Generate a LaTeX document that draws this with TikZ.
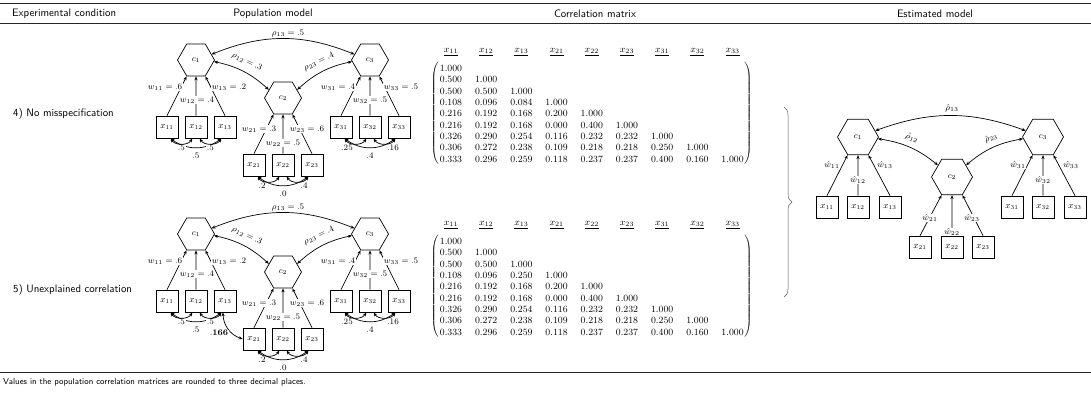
\RequirePackage{fix-cm}
\documentclass[tikz,border=0pt]{standalone}
\usepackage{amsmath}
\usetikzlibrary{shapes.geometric,arrows.meta,decorations.pathreplacing}

\tikzset{
  sti/.tip={Stealth[length=4pt,width=3.2pt]},
  arr/.style={-sti, line width=0.7pt},
  darr/.style={sti-sti, line width=0.7pt},
  hexa/.style={regular polygon, regular polygon sides=6, draw, line width=0.7pt,
    minimum size=37pt, inner sep=0pt, font=\fontsize{8.5}{10}\selectfont},
  hexb/.style={hexa, minimum size=41pt},
  obs/.style={draw, line width=0.7pt, minimum size=22pt, inner sep=0pt,
    font=\fontsize{9}{10}\selectfont},
  lab/.style={fill=white, inner sep=0.6pt, font=\fontsize{8.5}{10}\selectfont},
  hdr/.style={inner sep=0pt, font=\sffamily\fontsize{10.8}{12}\selectfont},
  num/.style={inner sep=0pt, font=\fontsize{9.5}{11}\selectfont},
  rulel/.style={line width=1pt, black!85},
  rules/.style={line width=0.6pt, black!85},
  brc/.style={decorate, decoration={brace, amplitude=8pt}, line width=0.5pt, black!65},
}

\newcommand\popmodel[2]{%
\begin{scope}[shift={(0,#2)}]
  \node[hexa] (#1c1) at (196,60) {$c_1$};
  \node[hexa] (#1c2) at (283,98) {$c_2$};
  \node[hexa] (#1c3) at (370,60) {$c_3$};
  \node[obs] (#1x11) at (167,127) {$x_{11}$};
  \node[obs] (#1x12) at (196,127) {$x_{12}$};
  \node[obs] (#1x13) at (225,127) {$x_{13}$};
  \node[obs] (#1x21) at (254,165) {$x_{21}$};
  \node[obs] (#1x22) at (283,165) {$x_{22}$};
  \node[obs] (#1x23) at (312,165) {$x_{23}$};
  \node[obs] (#1x31) at (341,127) {$x_{31}$};
  \node[obs] (#1x32) at (370,127) {$x_{32}$};
  \node[obs] (#1x33) at (399,127) {$x_{33}$};
  % weights
  \draw[arr] (#1x11.north) -- (#1c1.240);
  \draw[arr] (#1x12.north) -- (#1c1.south);
  \draw[arr] (#1x13.north) -- (#1c1.300);
  \draw[arr] (#1x21.north) -- (#1c2.240);
  \draw[arr] (#1x22.north) -- (#1c2.south);
  \draw[arr] (#1x23.north) -- (#1c2.300);
  \draw[arr] (#1x31.north) -- (#1c3.240);
  \draw[arr] (#1x32.north) -- (#1c3.south);
  \draw[arr] (#1x33.north) -- (#1c3.300);
  % construct correlations
  \draw[darr] (#1c1.20) to[bend left=22] (#1c3.160);
  \draw[darr] (#1c1.-5) to[bend left=15] (#1c2.150);
  \draw[darr] (#1c3.185) to[bend right=15] (#1c2.30);
  % indicator correlations
  \draw[darr] (#1x11.-72) to[bend right=38] (#1x13.-108);
  \draw[darr] (#1x11.-72) to[bend right=60] (#1x12.-108);
  \draw[darr] (#1x12.-72) to[bend right=60] (#1x13.-108);
  \draw[darr] (#1x21.-72) to[bend right=38] (#1x23.-108);
  \draw[darr] (#1x21.-72) to[bend right=60] (#1x22.-108);
  \draw[darr] (#1x22.-72) to[bend right=60] (#1x23.-108);
  \draw[darr] (#1x31.-72) to[bend right=38] (#1x33.-108);
  \draw[darr] (#1x31.-72) to[bend right=60] (#1x32.-108);
  \draw[darr] (#1x32.-72) to[bend right=60] (#1x33.-108);
  % labels
  \node[lab] (#1r13) at (288,34) {$\rho_{13} = .5$};
  \node[lab, rotate=-25] (#1r12) at (247,62) {$\rho_{12} = .3$};
  \node[lab, rotate=25] (#1r23) at (319,62) {$\rho_{23} = .4$};
  \node[lab] (#1w11) at (165,87) {$w_{11} = .6$};
  \node[lab] (#1w12) at (197,100) {$w_{12} = .4$};
  \node[lab] (#1w13) at (229,87) {$w_{13} = .2$};
  \node[lab] (#1w31) at (338,87) {$w_{31} = .4$};
  \node[lab] (#1w32) at (370,100) {$w_{32} = .5$};
  \node[lab] (#1w33) at (401,87) {$w_{33} = .5$};
  \node[lab] (#1w21) at (259,129) {$w_{21} = .3$};
  \node[lab] (#1w22) at (283,143) {$w_{22} = .5$};
  \node[lab] (#1w23) at (307,129) {$w_{23} = .6$};
  \node[lab] (#1k12) at (181.5,148) {$.5$};
  \node[lab] (#1k23) at (210.5,148) {$.5$};
  \node[lab] (#1k13) at (196,156) {$.5$};
  \node[lab] (#1k45) at (262,186) {$.2$};
  \node[lab] (#1k56) at (304,186) {$.4$};
  \node[lab] (#1k46) at (283,194) {$.0$};
  \node[lab] (#1k78) at (347,148) {$.25$};
  \node[lab] (#1k89) at (393,148) {$.16$};
  \node[lab] (#1k79) at (370,156) {$.4$};
\end{scope}}

\newcommand\corrmat[3]{%
  \foreach \hh [count=\cc] in {11,12,13,21,22,23,31,32,33}
    \node[num,anchor=base] (#1h\cc) at ({451+35.2*(\cc-1)},{#2+52.5}) {$\underline{x_{\hh}}$};
  \foreach \rowlist [count=\rr] in {#3} {
    \foreach \val [count=\cc] in \rowlist
      \node[num] (#1m\rr-\cc) at ({451+35.2*(\cc-1)},{#2+68.4+11.33*(\rr-1)}) {$\val$};
  }
  \node[num, anchor=east] (#1lp) at (440,{#2+113.7}) {$\left(\vrule height 50pt depth 50pt width 0pt\right.$};
  \node[num, anchor=west] (#1rp) at (743,{#2+113.7}) {$\left.\vrule height 50pt depth 50pt width 0pt\right)$};
}

\begin{document}
\begin{tikzpicture}[x=1pt,y=-1pt]
\useasboundingbox (0,0) rectangle (1091,393);

% rules
\draw[rulel] (0,4) -- (1091,4);
\draw[rules] (0,23.5) -- (1091,23.5);
\draw[rulel] (0,372) -- (1091,372);

% headers
\node[hdr, anchor=west] (h1) at (12,13.5) {Experimental condition};
\node[hdr] (h2) at (273,13.5) {Population model};
\node[hdr] (h3) at (595,13.5) {Correlation matrix};
\node[hdr] (h4) at (935,13.5) {Estimated model};

% row labels
\node[hdr, anchor=west] (row4) at (13,114) {4) No misspecification};
\node[hdr, anchor=west] (row5) at (13,290) {5) Unexplained correlation};

% population models
\popmodel{A}{0}
\popmodel{B}{174}
\draw[darr] (Bx13.-100) to[bend right=35] (Bx21.west);
\node[lab] (Bk166) at (219,333) {$\mathbf{.166}$};

% correlation matrices
\corrmat{P}{0}{{1.000},{0.500,1.000},{0.500,0.500,1.000},{0.108,0.096,0.084,1.000},{0.216,0.192,0.168,0.200,1.000},{0.216,0.192,0.168,0.000,0.400,1.000},{0.326,0.290,0.254,0.116,0.232,0.232,1.000},{0.306,0.272,0.238,0.109,0.218,0.218,0.250,1.000},{0.333,0.296,0.259,0.118,0.237,0.237,0.400,0.160,1.000}}
\corrmat{Q}{173}{{1.000},{0.500,1.000},{0.500,0.500,1.000},{0.108,0.096,0.250,1.000},{0.216,0.192,0.168,0.200,1.000},{0.216,0.192,0.168,0.000,0.400,1.000},{0.326,0.290,0.254,0.116,0.232,0.232,1.000},{0.306,0.272,0.238,0.109,0.218,0.218,0.250,1.000},{0.333,0.296,0.259,0.118,0.237,0.237,0.400,0.160,1.000}}

% brace
\coordinate (bt) at (784,107);
\coordinate (bb) at (784,297);
\draw[brc] (bt) -- (bb);

% estimated model
\node[hexb] (Ec1) at (858,137) {$c_1$};
\node[hexb] (Ec2) at (952,177) {$c_2$};
\node[hexb] (Ec3) at (1043,137) {$c_3$};
\node[obs] (Ex11) at (827,207) {$x_{11}$};
\node[obs] (Ex12) at (858,207) {$x_{12}$};
\node[obs] (Ex13) at (890,207) {$x_{13}$};
\node[obs] (Ex21) at (920,247) {$x_{21}$};
\node[obs] (Ex22) at (952,247) {$x_{22}$};
\node[obs] (Ex23) at (983,247) {$x_{23}$};
\node[obs] (Ex31) at (1012,207) {$x_{31}$};
\node[obs] (Ex32) at (1043,207) {$x_{32}$};
\node[obs] (Ex33) at (1075,207) {$x_{33}$};
\draw[arr] (Ex11.north) -- (Ec1.240);
\draw[arr] (Ex12.north) -- (Ec1.south);
\draw[arr] (Ex13.north) -- (Ec1.300);
\draw[arr] (Ex21.north) -- (Ec2.240);
\draw[arr] (Ex22.north) -- (Ec2.south);
\draw[arr] (Ex23.north) -- (Ec2.300);
\draw[arr] (Ex31.north) -- (Ec3.240);
\draw[arr] (Ex32.north) -- (Ec3.south);
\draw[arr] (Ex33.north) -- (Ec3.300);
\draw[darr] (Ec1.20) to[bend left=20] (Ec3.160);
\draw[darr] (Ec1.-5) to[bend left=15] (Ec2.140);
\draw[darr] (Ec3.185) to[bend right=15] (Ec2.40);
\node[lab] (Er13) at (952,108) {$\hat{\rho}_{13}$};
\node[lab, rotate=-25] (Er12) at (912,138) {$\hat{\rho}_{12}$};
\node[lab, rotate=25] (Er23) at (991,138) {$\hat{\rho}_{23}$};
\node[lab] (Ew11) at (832,165) {$\hat{w}_{11}$};
\node[lab] (Ew12) at (858,180) {$\hat{w}_{12}$};
\node[lab] (Ew13) at (885,165) {$\hat{w}_{13}$};
\node[lab] (Ew31) at (1018,165) {$\hat{w}_{31}$};
\node[lab] (Ew32) at (1043,180) {$\hat{w}_{32}$};
\node[lab] (Ew33) at (1071,165) {$\hat{w}_{33}$};
\node[lab] (Ew21) at (930,218) {$\hat{w}_{21}$};
\node[lab] (Ew22) at (952,232) {$\hat{w}_{22}$};
\node[lab] (Ew23) at (972,218) {$\hat{w}_{23}$};

% footnote
\node[inner sep=0pt, anchor=west, font=\sffamily\fontsize{8.6}{10}\selectfont] (foot) at (3,382)
  {Values in the population correlation matrices are rounded to three decimal places.};
\end{tikzpicture}
\end{document}
